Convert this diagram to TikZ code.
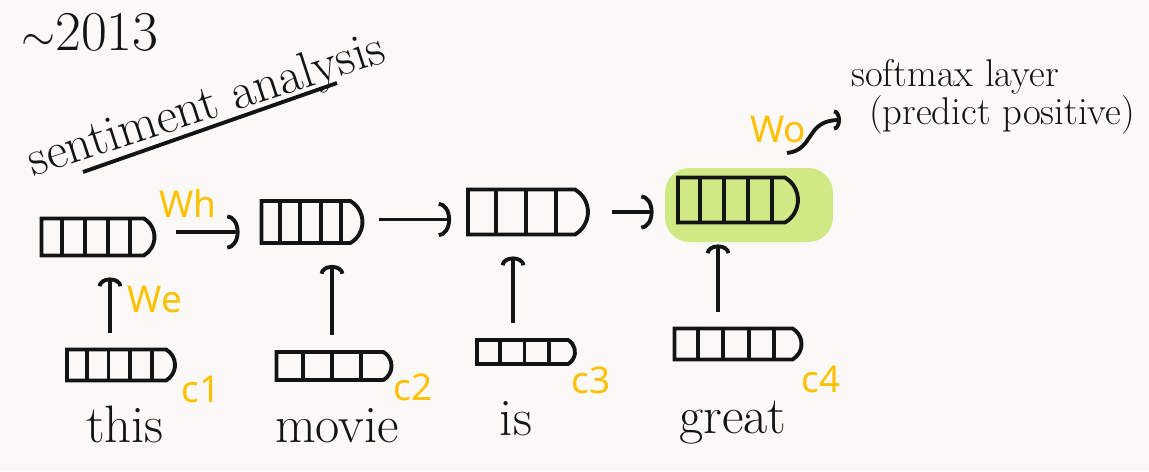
\documentclass[tikz,border=0pt]{standalone}
\usepackage{fontspec}
\newfontfamily\labelfont{Noto Sans}
\usetikzlibrary{calc,shapes.misc,arrows.meta,backgrounds}
\definecolor{ink}   {HTML}{141414}
\definecolor{amber} {HTML}{FFC000}
\definecolor{lime}  {HTML}{CFE985}
\definecolor{paper} {HTML}{FBF9F7}
\tikzset{
  % --- nodes
  vec/.style  = {rounded rectangle, rounded rectangle left arc=none,
                 rounded rectangle arc length=120, draw=ink,
                 line width=2.2pt, inner sep=0pt},
  hid/.style  = {vec, minimum width=2.2cm, minimum height=0.8cm},
  emb/.style  = {vec, minimum width=2.1cm, minimum height=0.58cm},
  hand/.style = {font=\fontsize{30}{32}\selectfont, text=ink, inner sep=0pt},
  wlbl/.style = {font=\labelfont\fontsize{21}{24}\selectfont, text=amber, inner sep=0pt},
  % --- edges
  div/.style  = {line width=2.2pt, draw=ink},
  e/.style    = {line width=2.2pt, draw=ink, -{Arc Barb[length=7pt,width=20pt]}},
  up/.style   = {e, -{Arc Barb[length=5pt,width=14pt]}, shorten <=0.3cm, shorten >=0.4cm},
}
\begin{document}
\begin{tikzpicture}[x=0.02cm,y=-0.02cm]
  \fill[paper] (0,0) rectangle (1149,471);
  \useasboundingbox (0,0) rectangle (1149,471);

  % title
  \node[hand, font=\fontsize{32}{34}\selectfont] (year) at (90,32) {$\sim$2013};
  \node[hand, font=\fontsize{29}{31}\selectfont, rotate=18] (topic) at (207,107) {sentiment analysis};
  \draw[div] ([shift={(-124,65)}]topic.center) -- ([shift={(130,-24)}]topic.center);

  % hidden states
  \node[fill=lime, rounded corners=14pt, minimum width=3.36cm, minimum height=1.48cm] (glow) at (749,205) {};
  \node[hid, minimum width=2.26cm, minimum height=0.74cm] (h1) at (98,237) {};
  \node[hid, minimum width=2.02cm, minimum height=0.84cm] (h2) at (312,222) {};
  \node[hid, minimum width=2.4cm,  minimum height=0.9cm]  (h3) at (528,212) {};
  \node[hid, minimum width=2.4cm,  minimum height=0.9cm]  (h4) at (738,200) {};

  % embeddings
  \node[emb, minimum width=2.16cm, minimum height=0.62cm] (e1) at (121,365) {};
  \node[emb, minimum width=2.3cm,  minimum height=0.56cm] (e2) at (334,366) {};
  \node[emb, minimum width=1.96cm, minimum height=0.48cm] (e3) at (526,352) {};
  \node[emb, minimum width=2.54cm, minimum height=0.62cm] (e4) at (738,344) {};

  \foreach \n/\k in {h1/4,h2/4,h3/3,h4/4,e1/4,e2/3,e3/3,e4/4}
    \foreach \i in {1,...,\k}{
      \pgfmathsetmacro\f{\i/(\k+1)*0.97}
      \draw[div] ($(\n.west |- \n.north)!\f!(\n.east |- \n.north)$) --
                 ($(\n.west |- \n.south)!\f!(\n.east |- \n.south)$);
    }

  % words
  \node[hand, anchor=base] (w1) at (125,442) {this};
  \node[hand, anchor=base] (w2) at (337,442) {movie};
  \node[hand, anchor=base] (w3) at (516,435) {is};
  \node[hand, anchor=base] (w4) at (733,433) {great};

  \node[wlbl, anchor=base] (c1) at (201,402) {c1};
  \node[wlbl, anchor=base] (c2) at (413,400) {c2};
  \node[wlbl, anchor=base] (c3) at (591,393) {c3};
  \node[wlbl, anchor=base] (c4) at (821,392) {c4};

  % recurrence
  \draw[e, shorten <=0.4cm, shorten >=0.4cm] ([yshift=0.1cm]h1.east) -- ([yshift=0.1cm]h1.east -| h2.west);
  \draw[e, shorten <=0.3cm, shorten >=0.3cm] ([yshift=0.05cm]h2.east) -- ([yshift=0.05cm]h2.east -| h3.west);
  \draw[e, shorten <=0.45cm, shorten >=0.45cm] (h3.east) -- (h3.east -| h4.west);
  \foreach \i/\dx in {1/-0.22,2/-0.04,3/-0.26,4/-0.4}
    \draw[up, transform canvas={xshift=\dx cm}] (e\i.north) -- (e\i.north |- h\i.south);

  \node[wlbl, anchor=base] (wh) at (188,217) {Wh};
  \node[wlbl, anchor=base] (we) at (155,312) {We};
  \node[wlbl, anchor=base] (wo) at (778,142) {Wo};

  % output
  \coordinate (wo0) at (787,153);
  \coordinate (wo1) at (841,120);
  \draw[e, -{Arc Barb[length=4pt,width=12pt]}] (wo0) .. controls (815,150) and (805,120) .. (wo1);
  \node[hand, font=\fontsize{22}{24}\selectfont] (soft) at (955,77) {softmax layer};
  \node[hand, font=\fontsize{22}{24}\selectfont] (pred) at (1002,115) {(predict positive)};
\end{tikzpicture}
\end{document}
